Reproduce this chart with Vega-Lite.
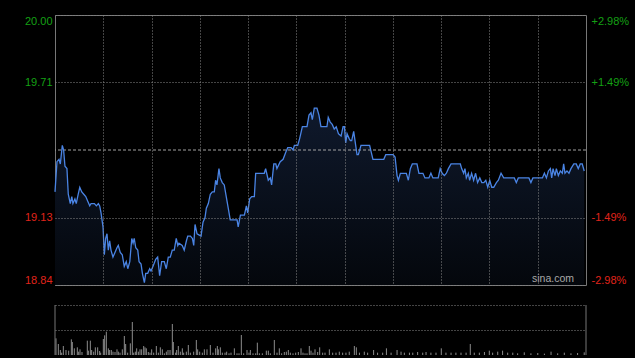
{
  "$schema": "https://vega.github.io/schema/vega-lite/v6.json",
  "background": "#000000",
  "padding": {"left": 23, "top": 14, "right": 5, "bottom": 2},
  "spacing": 18,
  "config": {
    "view": {"stroke": "#777777", "strokeWidth": 1},
    "font": "Liberation Sans"
  },
  "datasets": {
    "price": [
      {"t":0,"p":19.24},{"t":0.9,"p":19.37},{"t":1.8,"p":19.38},{"t":2.4,"p":19.36},{"t":3.3,"p":19.44},{"t":3.9,"p":19.42},{"t":4.5,"p":19.35},{"t":5.4,"p":19.34},{"t":6.0,"p":19.23},{"t":6.9,"p":19.19},{"t":7.6,"p":19.22},{"t":8.1,"p":19.19},{"t":9.0,"p":19.21},{"t":9.6,"p":19.19},{"t":10.5,"p":19.23},{"t":11.2,"p":19.26},{"t":12.1,"p":19.24},{"t":13.0,"p":19.23},{"t":13.9,"p":19.22},{"t":14.8,"p":19.20},{"t":15.7,"p":19.18},{"t":16.3,"p":19.19},{"t":17.8,"p":19.19},{"t":18.7,"p":19.18},{"t":19.6,"p":19.19},{"t":20.2,"p":19.18},{"t":20.8,"p":19.15},{"t":21.7,"p":19.09},{"t":22.3,"p":18.97},{"t":22.9,"p":19.04},{"t":23.5,"p":19.06},{"t":24.1,"p":18.99},{"t":24.7,"p":19.03},{"t":25.3,"p":18.99},{"t":26.2,"p":18.96},{"t":27.1,"p":18.98},{"t":28.0,"p":19.00},{"t":28.6,"p":19.01},{"t":29.5,"p":18.98},{"t":30.4,"p":18.97},{"t":31.3,"p":18.92},{"t":32.2,"p":18.94},{"t":32.9,"p":18.91},{"t":33.8,"p":18.94},{"t":34.7,"p":19.04},{"t":35.3,"p":19.02},{"t":35.8,"p":19.04},{"t":36.5,"p":19.00},{"t":37.4,"p":18.99},{"t":38.0,"p":18.94},{"t":38.9,"p":18.93},{"t":39.5,"p":18.89},{"t":40.4,"p":18.85},{"t":41.0,"p":18.89},{"t":41.9,"p":18.89},{"t":42.8,"p":18.91},{"t":43.4,"p":18.90},{"t":44.3,"p":18.92},{"t":45.5,"p":18.95},{"t":46.4,"p":18.96},{"t":47.3,"p":18.88},{"t":48.2,"p":18.94},{"t":49.4,"p":18.94},{"t":50.3,"p":18.91},{"t":51.2,"p":18.96},{"t":52.1,"p":18.96},{"t":53.0,"p":18.99},{"t":53.9,"p":18.99},{"t":54.8,"p":19.04},{"t":55.5,"p":19.01},{"t":56.0,"p":19.02},{"t":57.5,"p":19.01},{"t":58.4,"p":18.99},{"t":59.4,"p":19.03},{"t":60.0,"p":19.05},{"t":61.2,"p":19.05},{"t":62.1,"p":19.04},{"t":62.7,"p":19.01},{"t":63.3,"p":19.10},{"t":64.2,"p":19.06},{"t":66.0,"p":19.05},{"t":66.9,"p":19.11},{"t":67.8,"p":19.13},{"t":68.4,"p":19.17},{"t":69.3,"p":19.19},{"t":70.2,"p":19.23},{"t":71.1,"p":19.24},{"t":72.0,"p":19.24},{"t":72.6,"p":19.29},{"t":73.2,"p":19.27},{"t":74.1,"p":19.34},{"t":74.7,"p":19.30},{"t":75.6,"p":19.28},{"t":76.5,"p":19.27},{"t":77.4,"p":19.22},{"t":78.3,"p":19.17},{"t":79.2,"p":19.12},{"t":82.3,"p":19.12},{"t":82.8,"p":19.09},{"t":83.8,"p":19.14},{"t":85.6,"p":19.14},{"t":86.5,"p":19.18},{"t":87.1,"p":19.15},{"t":88.0,"p":19.21},{"t":88.9,"p":19.22},{"t":90.1,"p":19.22},{"t":90.7,"p":19.32},{"t":94.6,"p":19.32},{"t":95.2,"p":19.34},{"t":96.4,"p":19.29},{"t":97.3,"p":19.30},{"t":97.9,"p":19.27},{"t":98.9,"p":19.36},{"t":99.8,"p":19.36},{"t":100.3,"p":19.34},{"t":101.8,"p":19.37},{"t":103.1,"p":19.38},{"t":104.3,"p":19.41},{"t":105.2,"p":19.43},{"t":106.7,"p":19.43},{"t":107.6,"p":19.42},{"t":108.2,"p":19.44},{"t":109.7,"p":19.44},{"t":110.6,"p":19.47},{"t":111.8,"p":19.52},{"t":113.9,"p":19.52},{"t":114.8,"p":19.57},{"t":115.7,"p":19.58},{"t":116.3,"p":19.55},{"t":117.2,"p":19.60},{"t":118.4,"p":19.60},{"t":119.3,"p":19.57},{"t":120.2,"p":19.52},{"t":122.9,"p":19.52},{"t":123.5,"p":19.56},{"t":124.4,"p":19.54},{"t":125.3,"p":19.53},{"t":126.2,"p":19.51},{"t":127.1,"p":19.52},{"t":128.1,"p":19.49},{"t":129.3,"p":19.48},{"t":130.2,"p":19.52},{"t":130.8,"p":19.52},{"t":131.4,"p":19.45},{"t":132.0,"p":19.49},{"t":132.9,"p":19.47},{"t":133.5,"p":19.46},{"t":134.1,"p":19.46},{"t":135.0,"p":19.50},{"t":136.5,"p":19.40},{"t":137.1,"p":19.40},{"t":138.3,"p":19.44},{"t":142.2,"p":19.44},{"t":143.7,"p":19.38},{"t":148.6,"p":19.38},{"t":149.5,"p":19.40},{"t":152.8,"p":19.40},{"t":153.7,"p":19.39},{"t":154.6,"p":19.31},{"t":155.2,"p":19.29},{"t":156.1,"p":19.32},{"t":158.8,"p":19.32},{"t":159.7,"p":19.29},{"t":160.6,"p":19.34},{"t":161.5,"p":19.36},{"t":163.6,"p":19.36},{"t":164.5,"p":19.32},{"t":166.3,"p":19.32},{"t":167.2,"p":19.30},{"t":169.0,"p":19.30},{"t":169.9,"p":19.32},{"t":170.8,"p":19.30},{"t":173.2,"p":19.30},{"t":174.1,"p":19.34},{"t":175.0,"p":19.32},{"t":176.0,"p":19.31},{"t":176.9,"p":19.32},{"t":177.8,"p":19.34},{"t":179.0,"p":19.36},{"t":183.2,"p":19.36},{"t":183.8,"p":19.34},{"t":184.7,"p":19.32},{"t":185.3,"p":19.34},{"t":185.9,"p":19.30},{"t":186.8,"p":19.32},{"t":187.4,"p":19.29},{"t":188.3,"p":19.32},{"t":189.2,"p":19.29},{"t":190.1,"p":19.32},{"t":191.0,"p":19.28},{"t":192.0,"p":19.30},{"t":192.9,"p":19.28},{"t":193.8,"p":19.28},{"t":194.7,"p":19.29},{"t":195.6,"p":19.26},{"t":196.5,"p":19.29},{"t":197.4,"p":19.26},{"t":198.3,"p":19.26},{"t":199.5,"p":19.28},{"t":200.4,"p":19.29},{"t":201.6,"p":19.32},{"t":202.8,"p":19.30},{"t":207.6,"p":19.30},{"t":208.5,"p":19.28},{"t":209.4,"p":19.30},{"t":214.2,"p":19.30},{"t":215.1,"p":19.28},{"t":216.0,"p":19.30},{"t":220.3,"p":19.30},{"t":221.2,"p":19.32},{"t":222.1,"p":19.30},{"t":223.0,"p":19.33},{"t":223.9,"p":19.34},{"t":224.5,"p":19.30},{"t":225.1,"p":19.34},{"t":226.0,"p":19.31},{"t":226.6,"p":19.34},{"t":227.5,"p":19.31},{"t":228.4,"p":19.33},{"t":229.3,"p":19.32},{"t":229.9,"p":19.36},{"t":230.5,"p":19.32},{"t":231.4,"p":19.33},{"t":232.3,"p":19.32},{"t":233.2,"p":19.34},{"t":234.5,"p":19.36},{"t":235.6,"p":19.36},{"t":236.5,"p":19.34},{"t":237.4,"p":19.36},{"t":238.3,"p":19.36},{"t":239.2,"p":19.33}
    ],
    "volume": [
      {"t":0.45,"v":5000},{"t":1.51,"v":3300},{"t":2.41,"v":1500},{"t":3.01,"v":700},{"t":3.77,"v":2700},{"t":4.97,"v":1500},{"t":6.18,"v":1300},{"t":7.38,"v":4700},{"t":7.83,"v":3900},{"t":8.74,"v":2000},{"t":10.09,"v":2300},{"t":10.7,"v":1000},{"t":11.3,"v":1700},{"t":12.2,"v":900},{"t":14.61,"v":4300},{"t":15.07,"v":1300},{"t":15.97,"v":4300},{"t":16.57,"v":1500},{"t":17.48,"v":1000},{"t":18.23,"v":2300},{"t":19.28,"v":2300},{"t":20.19,"v":1200},{"t":20.64,"v":700},{"t":21.85,"v":4800},{"t":22.45,"v":5900},{"t":23.2,"v":7000},{"t":24.11,"v":2000},{"t":24.71,"v":1500},{"t":25.46,"v":1500},{"t":26.21,"v":1000},{"t":27.12,"v":900},{"t":28.02,"v":1700},{"t":28.62,"v":1000},{"t":29.38,"v":700},{"t":30.43,"v":1700},{"t":31.34,"v":5700},{"t":31.94,"v":3300},{"t":32.84,"v":700},{"t":34.05,"v":3500},{"t":34.95,"v":9900},{"t":35.56,"v":700},{"t":36.31,"v":1000},{"t":36.91,"v":2000},{"t":37.68,"v":1000},{"t":38.42,"v":1700},{"t":39.17,"v":1700},{"t":40.08,"v":2700},{"t":40.68,"v":2300},{"t":41.28,"v":2000},{"t":42.18,"v":900},{"t":42.94,"v":700},{"t":43.69,"v":1700},{"t":44.6,"v":700},{"t":45.8,"v":2700},{"t":46.71,"v":700},{"t":47.61,"v":2300},{"t":48.51,"v":1700},{"t":49.42,"v":500},{"t":50.32,"v":1000},{"t":51.07,"v":1500},{"t":51.98,"v":1500},{"t":53.03,"v":9300},{"t":53.48,"v":3900},{"t":54.54,"v":700},{"t":54.99,"v":1500},{"t":55.74,"v":2700},{"t":56.65,"v":1000},{"t":57.55,"v":2000},{"t":58.15,"v":700},{"t":59.36,"v":1000},{"t":60.26,"v":3000},{"t":61.17,"v":700},{"t":62.67,"v":1000},{"t":63.88,"v":4500},{"t":64.48,"v":1700},{"t":65.39,"v":1000},{"t":66.59,"v":700},{"t":67.5,"v":1700},{"t":68.7,"v":1700},{"t":70.21,"v":3000},{"t":71.41,"v":700},{"t":72.62,"v":2000},{"t":73.37,"v":2700},{"t":73.82,"v":1700},{"t":74.73,"v":2300},{"t":75.63,"v":700},{"t":76.84,"v":700},{"t":77.59,"v":1000},{"t":78.65,"v":500},{"t":79.55,"v":700},{"t":81.06,"v":2000},{"t":82.26,"v":500},{"t":83.17,"v":500},{"t":84.22,"v":6000},{"t":85.27,"v":500},{"t":86.78,"v":1500},{"t":87.68,"v":700},{"t":88.29,"v":1500},{"t":89.49,"v":500},{"t":90.7,"v":500},{"t":91.45,"v":3700},{"t":92.36,"v":500},{"t":93.71,"v":500},{"t":95.52,"v":1300},{"t":96.42,"v":1300},{"t":97.33,"v":500},{"t":99.13,"v":4500},{"t":100.34,"v":700},{"t":101.39,"v":2000},{"t":102.45,"v":500},{"t":103.65,"v":900},{"t":104.56,"v":1000},{"t":105.46,"v":1500},{"t":106.37,"v":700},{"t":107.57,"v":500},{"t":108.78,"v":700},{"t":109.98,"v":900},{"t":111.19,"v":2000},{"t":112.09,"v":700},{"t":113.0,"v":500},{"t":113.9,"v":500},{"t":114.95,"v":2700},{"t":115.71,"v":1300},{"t":116.61,"v":700},{"t":117.52,"v":1700},{"t":118.72,"v":900},{"t":119.63,"v":2300},{"t":120.98,"v":700},{"t":122.04,"v":700},{"t":124.0,"v":1700},{"t":125.5,"v":700},{"t":127.0,"v":700},{"t":128.5,"v":1000},{"t":130.0,"v":700},{"t":131.5,"v":700},{"t":133.0,"v":1000},{"t":135.3,"v":2700},{"t":136.2,"v":2300},{"t":137.6,"v":700},{"t":139.8,"v":1000},{"t":141.3,"v":700},{"t":144.0,"v":1500},{"t":145.8,"v":700},{"t":148.1,"v":700},{"t":149.8,"v":2000},{"t":151.9,"v":700},{"t":154.6,"v":1500},{"t":156.4,"v":1000},{"t":157.9,"v":700},{"t":160.2,"v":700},{"t":161.7,"v":700},{"t":163.9,"v":900},{"t":166.2,"v":700},{"t":167.7,"v":900},{"t":169.9,"v":700},{"t":172.2,"v":700},{"t":174.6,"v":2000},{"t":176.7,"v":700},{"t":179.0,"v":700},{"t":181.2,"v":700},{"t":183.5,"v":700},{"t":185.8,"v":700},{"t":187.7,"v":3300},{"t":189.5,"v":700},{"t":191.8,"v":700},{"t":194.1,"v":900},{"t":196.3,"v":1300},{"t":197.8,"v":700},{"t":200.1,"v":1000},{"t":202.3,"v":1300},{"t":204.6,"v":700},{"t":206.9,"v":700},{"t":209.1,"v":500},{"t":212.1,"v":800},{"t":215.1,"v":500},{"t":218.2,"v":600},{"t":221.2,"v":400},{"t":224.2,"v":1000},{"t":227.2,"v":500},{"t":230.2,"v":700},{"t":233.2,"v":500},{"t":236.2,"v":600},{"t":239.2,"v":800}
    ],
    "edges": [{"t": 0}, {"t": 240}],
    "prevclose": [{"p": 19.42}],
    "mark": [{"t": 234.6, "p": 18.845, "label": "sina.com"}]
  },
  "vconcat": [
    {
      "width": 531,
      "height": 270,
      "resolve": {"axis": {"y": "independent"}},
      "layer": [
        {
          "data": {"name": "price"},
          "mark": {
            "type": "area",
            "color": {
              "gradient": "linear", "x1": 0, "y1": 0, "x2": 0, "y2": 1,
              "stops": [{"offset": 0, "color": "#0f192c"}, {"offset": 1, "color": "#04070c"}]
            }
          },
          "encoding": {
            "x": {
              "field": "t", "type": "quantitative", "title": null,
              "scale": {"domain": [0, 240], "nice": false, "zero": false},
              "axis": {
                "values": [21.818, 43.636, 65.455, 87.273, 109.091, 130.909, 152.727, 174.545, 196.364, 218.182],
                "labels": false, "ticks": false, "domain": false, "grid": true,
                "gridColor": "#888888", "gridDash": [1, 2], "gridWidth": 1, "title": null, "zindex": 1
              }
            },
            "y": {
              "field": "p", "type": "quantitative", "title": null,
              "scale": {"domain": [18.84, 20.0], "nice": false, "zero": false},
              "axis": {
                "orient": "left", "values": [18.84, 19.13, 19.71, 20.0], "format": ".2f",
                "labelColor": {"condition": {"test": "datum.value > 19.42", "value": "#14a014"}, "value": "#e0241b"},
                "labelFont": "Liberation Sans", "labelFontSize": 11, "labelPadding": 3, "labelFlush": true,
                "ticks": false, "domain": false, "grid": true, "gridColor": "#888888", "gridDash": [1, 2],
                "title": null, "zindex": 1
              }
            },
            "y2": {"datum": 18.84}
          }
        },
        {
          "data": {"name": "prevclose"},
          "mark": {"type": "rule", "color": "#a0a0a0", "strokeDash": [3, 2], "strokeWidth": 1},
          "encoding": {
            "y": {"field": "p", "type": "quantitative", "scale": {"domain": [18.84, 20.0], "nice": false, "zero": false}, "axis": null}
          }
        },
        {
          "data": {"name": "price"},
          "mark": {"type": "line", "color": "#4a84e4", "strokeWidth": 1.3},
          "encoding": {
            "x": {"field": "t", "type": "quantitative", "title": null, "scale": {"domain": [0, 240], "nice": false, "zero": false}},
            "y": {
              "field": "p", "type": "quantitative", "title": null,
              "scale": {"domain": [18.84, 20.0], "nice": false, "zero": false},
              "axis": {
                "orient": "right", "values": [18.84, 19.13, 19.71, 20.0],
                "labelExpr": "(datum.value > 19.42 ? '+' : '-') + format(floor(abs(datum.value / 19.42 - 1) * 10000 + 0.000001) / 100, '.2f') + '%'",
                "labelColor": {"condition": {"test": "datum.value > 19.42", "value": "#14a014"}, "value": "#e0241b"},
                "labelFont": "Liberation Sans", "labelFontSize": 11, "labelPadding": 5, "labelFlush": true,
                "ticks": false, "domain": false, "grid": false, "title": null
              }
            }
          }
        },
        {
          "data": {"name": "mark"},
          "mark": {"type": "text", "color": "#a8a8a8", "fontSize": 10.5, "font": "Liberation Sans", "align": "right", "baseline": "bottom"},
          "encoding": {
            "x": {"field": "t", "type": "quantitative", "title": null, "scale": {"domain": [0, 240], "nice": false, "zero": false}},
            "y": {"field": "p", "type": "quantitative", "scale": {"domain": [18.84, 20.0], "nice": false, "zero": false}, "axis": null},
            "text": {"field": "label"}
          }
        }
      ]
    },
    {
      "width": 531,
      "height": 50,
      "view": {"stroke": null},
      "layer": [
        {
          "data": {"name": "volume"},
          "mark": {"type": "rule", "color": "#8c8c8c", "strokeWidth": 1},
          "encoding": {
            "x": {"field": "t", "type": "quantitative", "scale": {"domain": [0, 240], "nice": false, "zero": false}, "axis": null},
            "y": {
              "field": "v", "type": "quantitative", "title": null,
              "scale": {"domain": [0, 15000], "nice": false},
              "axis": {"values": [7500, 15000], "labels": false, "ticks": false, "domain": false, "grid": true, "gridColor": "#888888", "gridDash": [1, 2], "title": null}
            },
            "y2": {"datum": 0}
          }
        },
        {
          "data": {"name": "edges"},
          "mark": {"type": "rule", "color": "#777777", "strokeWidth": 1},
          "encoding": {
            "x": {"field": "t", "type": "quantitative", "scale": {"domain": [0, 240], "nice": false, "zero": false}, "axis": null}
          }
        }
      ]
    }
  ]
}
